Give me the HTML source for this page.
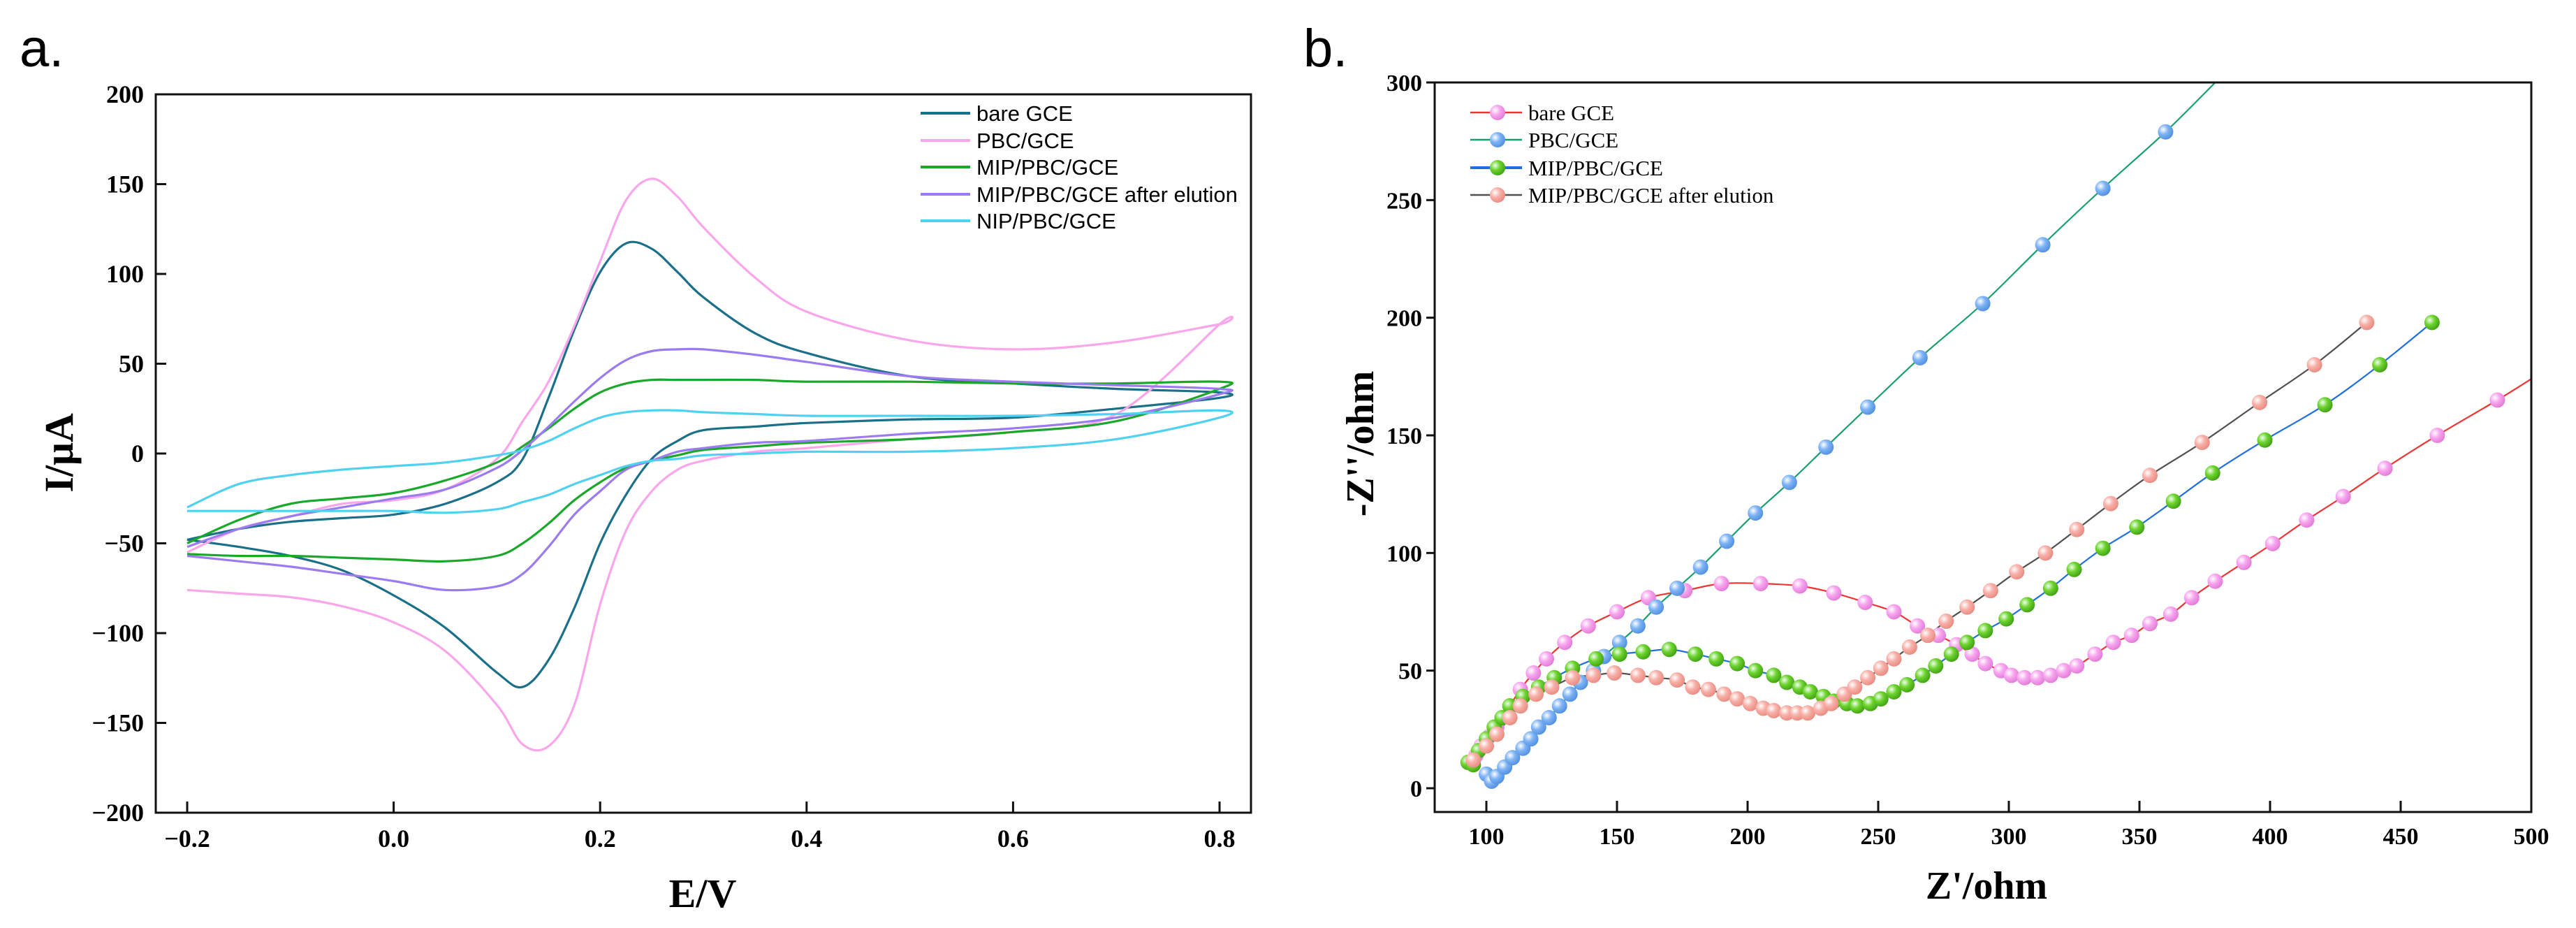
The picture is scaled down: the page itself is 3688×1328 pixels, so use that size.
<!DOCTYPE html>
<html><head><meta charset="utf-8"><style>
html,body{margin:0;padding:0;background:#fff;}
svg{display:block;}
</style></head><body>
<svg id="fig" width="3688" height="1328" xmlns="http://www.w3.org/2000/svg">
<defs>
<radialGradient id="gPink" cx="0.35" cy="0.35" r="0.7"><stop offset="0" stop-color="#fff"/><stop offset="0.45" stop-color="#f8a6ef"/><stop offset="1" stop-color="#e07ad6"/></radialGradient>
<radialGradient id="gBlue" cx="0.35" cy="0.35" r="0.7"><stop offset="0" stop-color="#fff"/><stop offset="0.45" stop-color="#7fb4f5"/><stop offset="1" stop-color="#4f8ee0"/></radialGradient>
<radialGradient id="gGreen" cx="0.35" cy="0.35" r="0.7"><stop offset="0" stop-color="#f0fff0"/><stop offset="0.45" stop-color="#6ed42e"/><stop offset="1" stop-color="#3fa015"/></radialGradient>
<radialGradient id="gSalmon" cx="0.35" cy="0.35" r="0.7"><stop offset="0" stop-color="#fff"/><stop offset="0.45" stop-color="#f8b0a8"/><stop offset="1" stop-color="#e88a80"/></radialGradient>
</defs>
<text x="28" y="95" font-family="Liberation Sans, sans-serif" font-size="76">a.</text>
<text x="1866" y="95" font-family="Liberation Sans, sans-serif" font-size="76">b.</text>
<g id="pa"></g>
<g id="pb"></g>
</svg>
<script>
// ---------- Panel a data (CV) ----------
const cvE = [-0.2,-0.15,-0.1,-0.05,0.0,0.05,0.1,0.125,0.15,0.175,0.2,0.225,0.25,0.275,0.3,0.35,0.4,0.5,0.6,0.7,0.8];
const cvNames = ["bare GCE","PBC/GCE","MIP/PBC/GCE","MIP/PBC/GCE after elution","NIP/PBC/GCE"];
const cvColors = ["#1b7089","#f9a6ea","#19a82a","#9b7cf0","#4fd2f2"];
const bareUp = [-48,-42,-38,-36,-34,-28,-16,-3,31,69,101,117,114,101,87,67,56,43,39,36,34];
const bareDown = [-48,-52,-57,-65,-79,-97,-122,-130,-115,-86,-50,-23,-3,7,13,15,17,19,20,25,31];
const pbcUp = [-55,-42,-35,-28,-26,-20,-3,18,40,71,107,141,153,143,126,98,79,63,58,62,72];
const pbcDown = [-76,-78,-80,-85,-94,-110,-140,-162,-163,-140,-84,-43,-21,-9,-4,1,3,8,12,22,72];
const mipUp = [-50,-37,-28,-25,-22,-15,-5,4,14,25,34,39,41,41,41,41,40,40,39,39,40];
const mipDown = [-56,-57,-57,-58,-59,-60,-57,-50,-39,-26,-16,-8,-4,-1,2,4,6,8,12,18,36];
const eluUp = [-52,-42,-35,-30,-25,-20,-8,2,15,29,42,52,57,58,58,55,51,43,40,38,36];
const eluDown = [-57,-60,-63,-67,-71,-76,-74,-67,-52,-34,-21,-9,-4,1,3,6,7,11,14,20,33];
const nipUp = [-30,-17,-12,-9,-7,-5,-1,2,7,14,20,23,24,24,23,22,21,21,21,22,24];
const nipDown = [-32,-32,-32,-32,-32,-33,-31,-27,-23,-17,-12,-7,-4,-3,-1,0,1,1,3,8,20];
const cvUps = [bareUp,pbcUp,mipUp,eluUp,nipUp];
const cvDowns = [bareDown,pbcDown,mipDown,eluDown,nipDown];
const cvXTicks = [-0.2,0.0,0.2,0.4,0.6,0.8];
const cvYTicks = [-200,-150,-100,-50,0,50,100,150,200];

// ---------- Panel b data (EIS) ----------
const eisNames = ["bare GCE","PBC/GCE","MIP/PBC/GCE","MIP/PBC/GCE after elution"];
const eisLine = ["#f03434","#17a06a","#1f6fe0","#505050"];
const eisFill = ["url(#gPink)","url(#gBlue)","url(#gGreen)","url(#gSalmon)"];
const bareX = [93,96,98,101,104,109,113,118,123,130,139,150,162,176,190,205,220,233,245,256,265,273,280,286,291,297,301,306,311,316,321,326,333,340,347,354,362,370,379,390,401,414,428,444,464,487];
const bareY = [11,14,18,22,26,35,42,49,55,62,69,75,81,84,87,87,86,83,79,75,69,65,61,57,53,50,48,47,47,48,50,52,57,62,65,70,74,81,88,96,104,114,124,136,150,165];
const pbcX = [100,102,104,107,110,114,117,120,124,128,132,136,141,145,151,158,165,173,182,192,203,216,230,246,266,290,313,336,360];
const pbcY = [6,3,5,9,13,17,21,26,30,35,40,45,50,56,62,69,77,85,94,105,117,130,145,162,183,206,231,255,279];
const mipX = [93,95,97,100,103,106,109,114,120,126,133,142,151,160,170,180,188,196,203,210,215,220,224,229,233,238,242,247,251,256,261,267,272,278,284,291,299,307,316,325,336,349,363,378,398,421,442,462];
const mipY = [11,10,16,21,26,30,35,39,43,47,51,55,57,58,59,57,55,53,50,48,45,43,41,39,37,36,35,36,38,41,44,48,52,57,62,67,72,78,85,93,102,111,122,134,148,163,180,198];
const eluX = [95,100,104,109,113,119,125,133,141,149,158,165,173,179,185,191,196,201,206,210,215,219,223,228,232,237,241,246,251,256,262,269,276,284,293,303,314,326,339,354,374,396,417,437];
const eluY = [12,18,23,30,35,40,43,47,48,49,48,47,46,43,42,40,38,36,34,33,32,32,32,34,36,40,43,47,51,55,60,65,71,77,84,92,100,110,121,133,147,164,180,198];
const eisXs = [bareX,pbcX,mipX,eluX];
const eisYs = [bareY,pbcY,mipY,eluY];
const eisExtend = [[500,174],[379,300],null,null];
const eisXTicks = [100,150,200,250,300,350,400,450,500];
const eisYTicks = [0,50,100,150,200,250,300];

const NS = "http://www.w3.org/2000/svg";
function el(tag, attrs, parent){ const e=document.createElementNS(NS,tag); for(const k in attrs) e.setAttribute(k,attrs[k]); parent.appendChild(e); return e; }
function smooth(pts){
  let d = "M"+pts[0][0].toFixed(1)+","+pts[0][1].toFixed(1);
  for(let i=0;i<pts.length-1;i++){
    const p0=pts[i-1]||pts[i], p1=pts[i], p2=pts[i+1], p3=pts[i+2]||p2;
    const c1=[p1[0]+(p2[0]-p0[0])/6, p1[1]+(p2[1]-p0[1])/6];
    const c2=[p2[0]-(p3[0]-p1[0])/6, p2[1]-(p3[1]-p1[1])/6];
    d+=" C"+c1[0].toFixed(1)+","+c1[1].toFixed(1)+" "+c2[0].toFixed(1)+","+c2[1].toFixed(1)+" "+p2[0].toFixed(1)+","+p2[1].toFixed(1);
  }
  return d;
}
const serif = "Liberation Serif, serif";

// ---------- Panel a ----------
(function(){
  const g = document.getElementById("pa");
  const L=223,R=1791,T=135,B=1163;
  const xS = v => 268 + (v+0.2)/1.0*(1746-268);
  const yS = v => T + (200-v)/400*(B-T);
  for(let s=0;s<cvNames.length;s++){
    const pts=[];
    for(let i=0;i<cvE.length;i++) pts.push([xS(cvE[i]), yS(cvUps[s][i])]);
    for(let i=cvE.length-1;i>=0;i--) pts.push([xS(cvE[i]), yS(cvDowns[s][i])]);
    const p = el("path",{d:smooth(pts),fill:"none",stroke:cvColors[s],"stroke-width":3.2},g);
    
    
  }
  const fr = el("rect",{x:L,y:T,width:R-L,height:B-T,fill:"none",stroke:"#111","stroke-width":3},g);
  
  
  cvXTicks.forEach(v=>{
    const x=xS(v);
    el("line",{x1:x,y1:B,x2:x,y2:B-16,stroke:"#111","stroke-width":3},g);
    const t=el("text",{x:x,y:1212,"text-anchor":"middle","font-family":serif,"font-weight":"bold","font-size":36},g);
    t.textContent = v.toFixed(1).replace("-","\u2212");
    
    
  });
  cvYTicks.forEach(v=>{
    const y=yS(v);
    el("line",{x1:L,y1:y,x2:L+15,y2:y,stroke:"#111","stroke-width":3},g);
    const t=el("text",{x:206,y:y+12,"text-anchor":"end","font-family":serif,"font-weight":"bold","font-size":36},g);
    t.textContent = String(v).replace("-","\u2212");
    
    
  });
  const xt=el("text",{x:1006,y:1298,"text-anchor":"middle","font-family":serif,"font-weight":"bold","font-size":58},g);
  xt.textContent="E/V";
  
  
  const yt=el("text",{x:0,y:0,"text-anchor":"middle","font-family":serif,"font-weight":"bold","font-size":58,transform:"translate(104,648) rotate(-90)"},g);
  yt.textContent="I/\u03bcA";
  
  
  const ly=[162,201,239,278,316];
  cvNames.forEach((n,i)=>{
    const lg = el("g",{},g);
    
    
    el("line",{x1:1318,y1:ly[i],x2:1389,y2:ly[i],stroke:cvColors[i],"stroke-width":4},lg);
    const t=el("text",{x:1398,y:ly[i]+11,"font-family":"Liberation Sans Narrow, Liberation Sans, sans-serif","font-size":31},lg);
    t.textContent=n;
  });
})();

// ---------- Panel b ----------
(function(){
  const g = document.getElementById("pb");
  const L=2054,R=3624,T=118,B=1162;
  const xS = v => 2128 + (v-100)/400*(3624-2128);
  const yS = v => 1128 - v/300*(1128-T);
  for(let s=0;s<eisNames.length;s++){
    const pts = eisXs[s].map((x,i)=>[xS(x), yS(eisYs[s][i])]);
    if(eisExtend[s]) pts.push([xS(eisExtend[s][0]), yS(eisExtend[s][1])]);
    const p = el("path",{d:smooth(pts),fill:"none",stroke:eisLine[s],"stroke-width":2.2},g);
    
    
  }
  for(let s=0;s<eisNames.length;s++){
    for(let i=0;i<eisXs[s].length;i++){
      const c = el("circle",{cx:xS(eisXs[s][i]),cy:yS(eisYs[s][i]),r:11,fill:eisFill[s]},g);
      
      
    }
  }
  const fr = el("rect",{x:L,y:T,width:R-L,height:B-T,fill:"none",stroke:"#111","stroke-width":3},g);
  
  
  eisXTicks.forEach(v=>{
    const x=xS(v);
    el("line",{x1:x,y1:B,x2:x,y2:B-16,stroke:"#111","stroke-width":3},g);
    const t=el("text",{x:x,y:1208,"text-anchor":"middle","font-family":serif,"font-weight":"bold","font-size":34},g);
    t.textContent = v;
    
    
  });
  eisYTicks.forEach(v=>{
    const y=yS(v);
    el("line",{x1:L,y1:y,x2:L-12,y2:y,stroke:"#111","stroke-width":3},g);
    const t=el("text",{x:2036,y:y+12,"text-anchor":"end","font-family":serif,"font-weight":"bold","font-size":34},g);
    t.textContent = v;
    
    
  });
  const xt=el("text",{x:2844,y:1286,"text-anchor":"middle","font-family":serif,"font-weight":"bold","font-size":56},g);
  xt.textContent="Z'/ohm";
  
  
  const yt=el("text",{x:0,y:0,"text-anchor":"middle","font-family":serif,"font-weight":"bold","font-size":56,transform:"translate(1966,635) rotate(-90)"},g);
  yt.textContent="-Z''/ohm";
  
  
  const ly=[161,200,240,279];
  eisNames.forEach((n,i)=>{
    const lg = el("g",{},g);
    
    
    el("line",{x1:2105,y1:ly[i],x2:2179,y2:ly[i],stroke:eisLine[i],"stroke-width":i==2?4:2.5},lg);
    el("circle",{cx:2144,cy:ly[i],r:11,fill:eisFill[i]},lg);
    const t=el("text",{x:2188,y:ly[i]+11,"font-family":serif,"font-size":31},lg);
    t.textContent=n;
  });
})();
</script>
</body></html>
